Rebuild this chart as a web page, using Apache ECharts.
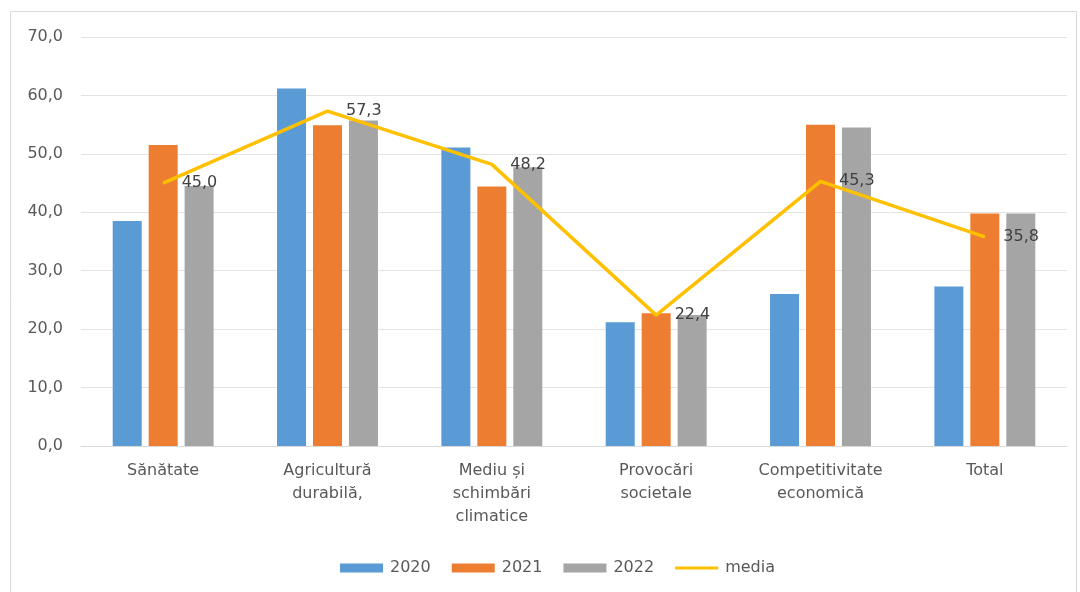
<!DOCTYPE html>
<html><head><meta charset="utf-8">
<script src="https://cdn.jsdelivr.net/npm/echarts@6/dist/echarts.min.js"></script>
<style>html,body{margin:0;padding:0;background:#fff}#c{width:1080px;height:592px}</style>
</head><body><div id="c"></div>
<script>
const categories = ['Sănătate', 'Agricultură\ndurabilă,', 'Mediu și\nschimbări\nclimatice', 'Provocări\nsocietale', 'Competitivitate\neconomică', 'Total'];
const v2020 = [38.5, 61.2, 51.1, 21.2, 26.0, 27.3];
const v2021 = [51.5, 54.9, 44.4, 22.7, 55.0, 39.8];
const v2022 = [44.5, 55.7, 47.7, 22.4, 54.5, 39.8];
const media = [45.0, 57.3, 48.2, 22.4, 45.3, 35.8];
const yTicks = [0, 10, 20, 30, 40, 50, 60, 70];

const fmt = v => v.toFixed(1).replace('.', ',');
const font = 'DejaVu Sans';
const chart = echarts.init(document.getElementById('c'));
const barS = (name, data, color) => ({
  name, type: 'bar', data, barWidth: 29, barGap: '24%',
  itemStyle: { color }, emphasis: { disabled: true }
});
chart.setOption({
  animation: false,
  textStyle: { fontFamily: font },
  graphic: [{ type: 'rect', shape: { x: 10.5, y: 11.5, width: 1066, height: 600 },
    style: { fill: 'none', stroke: '#d9d9d9', lineWidth: 1 }, silent: true }],
  grid: { left: 81, right: 13, top: 37, bottom: 146 },
  legend: {
    top: 555, left: 335, itemWidth: 43, itemHeight: 9, itemGap: 21,
    textStyle: { fontSize: 16, color: '#595959', fontFamily: font, padding: [0, 0, 0, 2] },
    data: [{ name: '2020', icon: 'rect' }, { name: '2021', icon: 'rect' }, { name: '2022', icon: 'rect' },
      { name: 'media', icon: 'path://M0,3 L43,3 L43,6 L0,6 Z' }]
  },
  xAxis: {
    type: 'category', data: categories,
    axisLine: { lineStyle: { color: '#d9d9d9', width: 1 } },
    axisTick: { show: false },
    axisLabel: { fontSize: 16, color: '#595959', lineHeight: 23, margin: 13, interval: 0, fontFamily: font }
  },
  yAxis: {
    type: 'value', min: 0, max: 70, interval: 10,
    axisLine: { show: false }, axisTick: { show: false },
    splitLine: { lineStyle: { color: '#e3e3e3', width: 1 } },
    axisLabel: { fontSize: 16, color: '#595959', margin: 18, fontFamily: font,
      formatter: v => yTicks.includes(v) ? fmt(v) : '' }
  },
  series: [
    barS('2020', v2020, '#5B9BD5'),
    barS('2021', v2021, '#ED7D31'),
    barS('2022', v2022, '#A5A5A5'),
    { name: 'media', type: 'line', data: media, symbol: 'circle', symbolSize: 1, showSymbol: true, z: 5,
      lineStyle: { color: '#FFC000', width: 3.5 }, itemStyle: { color: '#FFC000' },
      emphasis: { disabled: true },
      labelLayout: { hideOverlap: false },
      label: { show: true, position: 'right', distance: 18, fontSize: 16, color: '#404040',
        fontFamily: font, formatter: p => fmt(p.value) } }
  ]
});
</script></body></html>
